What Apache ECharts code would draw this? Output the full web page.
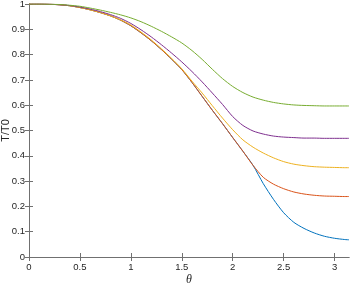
<!DOCTYPE html>
<html>
<head>
<meta charset="utf-8">
<script src="https://cdn.jsdelivr.net/npm/echarts@6/dist/echarts.min.js"></script>
<style>html,body{margin:0;padding:0;background:#fff}#c{width:350px;height:286px}</style>
</head>
<body>
<div id="c"></div>
<script>
var theta = [0,0.1,0.2,0.3,0.4,0.5,0.6,0.7,0.8,0.9,1.0,1.1,1.2,1.3,1.4,1.5,1.6,1.7,1.8,1.9,2.0,2.1,2.2,2.3,2.4,2.5,2.6,2.7,2.8,2.9,3.0,3.1,3.14159];
var blue   = [1.000,1.000,0.999,0.997,0.993,0.986,0.977,0.966,0.953,0.936,0.914,0.886,0.855,0.820,0.782,0.741,0.690,0.635,0.580,0.527,0.472,0.418,0.362,0.290,0.228,0.175,0.137,0.113,0.095,0.082,0.074,0.069,0.068];
var red    = [1.000,1.000,0.999,0.997,0.993,0.986,0.977,0.966,0.953,0.936,0.914,0.886,0.855,0.820,0.782,0.741,0.690,0.635,0.580,0.527,0.472,0.418,0.362,0.315,0.288,0.270,0.257,0.249,0.244,0.241,0.240,0.239,0.239];
var yellow = [1.000,1.000,0.999,0.997,0.993,0.986,0.977,0.966,0.953,0.937,0.917,0.889,0.858,0.823,0.785,0.744,0.695,0.648,0.598,0.549,0.503,0.463,0.434,0.411,0.392,0.377,0.367,0.361,0.357,0.355,0.354,0.353,0.353];
var purple = [1.000,1.000,0.999,0.997,0.994,0.988,0.980,0.970,0.958,0.943,0.923,0.898,0.870,0.839,0.806,0.771,0.733,0.692,0.648,0.603,0.555,0.520,0.498,0.486,0.478,0.474,0.472,0.470,0.470,0.469,0.469,0.469,0.469];
var green  = [1.000,1.000,0.999,0.998,0.995,0.991,0.984,0.976,0.967,0.957,0.945,0.930,0.912,0.892,0.870,0.846,0.816,0.781,0.742,0.705,0.674,0.650,0.632,0.620,0.611,0.605,0.601,0.599,0.598,0.597,0.597,0.597,0.597];
var xTicks = [0,0.5,1,1.5,2,2.5,3];

function pairs(ys){ return theta.map(function(t,i){ return [t, ys[i]]; }); }
var colors = ['#0072BD','#D95319','#EDB120','#7E2F8E','#77AC30'];
var sets = [blue, red, yellow, purple, green];
var axisColor = '#707070';
var font = 'Liberation Sans, Arial, Helvetica, sans-serif';

var chart = echarts.init(document.getElementById('c'), null, {renderer:'canvas'});
chart.setOption({
  animation:false,
  grid:{left:29, right:1, top:4, bottom:29, containLabel:false, outerBoundsMode:'none'},
  xAxis:[{
    type:'value', min:0, max:Math.PI, interval:0.5,
    axisLine:{show:true, lineStyle:{color:axisColor, width:1}},
    axisTick:{show:true, inside:true, length:4, lineStyle:{color:axisColor}, customValues:xTicks},
    axisLabel:{color:'#262626', fontSize:9.5, fontFamily:font, margin:5, customValues:xTicks,
      formatter:function(v){ return String(v); }},
    splitLine:{show:false},
    name:'θ', nameLocation:'middle', nameGap:17, nameMoveOverlap:false,
    nameTextStyle:{color:'#262626', fontSize:12, fontStyle:'italic', fontFamily:'Liberation Serif, Times New Roman, serif'}
  },{
    type:'value', position:'top', min:0, max:Math.PI, interval:0.5,
    axisLine:{show:true, lineStyle:{color:axisColor, width:1}},
    axisTick:{show:true, inside:true, length:4, lineStyle:{color:axisColor}, customValues:xTicks},
    axisLabel:{show:false}, splitLine:{show:false}
  }],
  yAxis:[{
    type:'value', min:0, max:1, interval:0.1,
    axisLine:{show:true, lineStyle:{color:axisColor, width:1}},
    axisTick:{show:true, inside:true, length:4, lineStyle:{color:axisColor}},
    axisLabel:{color:'#262626', fontSize:9.5, fontFamily:font, margin:4},
    splitLine:{show:false},
    name:'T/T0', nameLocation:'middle', nameGap:18, nameRotate:90, nameMoveOverlap:false,
    nameTextStyle:{color:'#262626', fontSize:11, fontFamily:font}
  },{
    type:'value', position:'right', min:0, max:1, interval:0.1,
    axisLine:{show:true, lineStyle:{color:axisColor, width:1}},
    axisTick:{show:true, inside:true, length:4, lineStyle:{color:axisColor}},
    axisLabel:{show:false}, splitLine:{show:false}
  }],
  series: sets.map(function(s,i){
    return {type:'line', data:pairs(s), showSymbol:false, symbol:'none', smooth:0.25,
      lineStyle:{color:colors[i], width:1}, xAxisIndex:0, yAxisIndex:0, z:2+i};
  })
});
</script>
</body>
</html>
